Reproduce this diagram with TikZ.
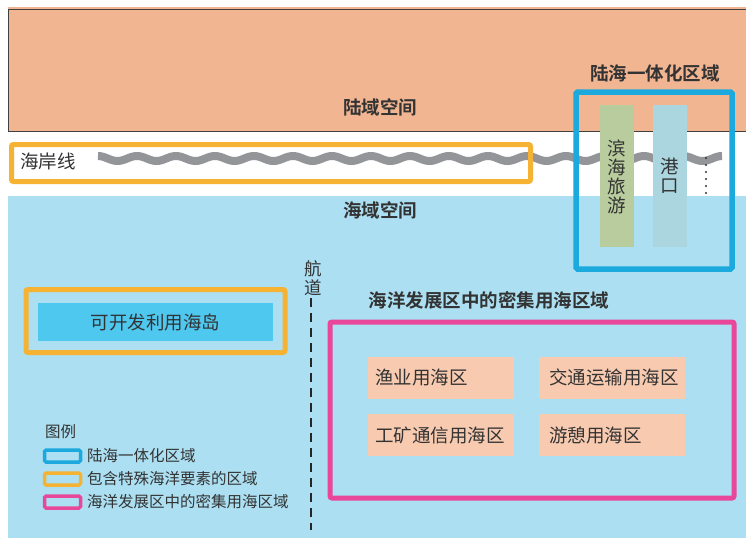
\documentclass[tikz,border=0pt]{standalone}
\usepackage{fontspec}
\setmainfont{Noto Sans CJK SC}
\newfontfamily\cjk{Noto Sans CJK SC}
\newfontfamily\cjkb{Noto Sans CJK SC Bold}
\definecolor{landc}{HTML}{F2B592}
\definecolor{seac}{HTML}{ABDFF1}
\definecolor{orangec}{HTML}{F6B232}
\definecolor{bluec}{HTML}{1BA9DE}
\definecolor{pinkc}{HTML}{E8479A}
\definecolor{islandc}{HTML}{4FC8F0}
\definecolor{peachc}{HTML}{F8CBB1}
\definecolor{greenc}{HTML}{B9CC9D}
\definecolor{harborc}{HTML}{ABD6DF}
\definecolor{wavec}{HTML}{939598}
\definecolor{txtc}{HTML}{333333}
\tikzset{
  lbl/.style={font=\cjk\fontsize{18.5}{19}\selectfont, text=txtc, inner sep=0pt},
  vlbl/.style={font=\cjk\fontsize{18.5}{19}\selectfont, text=txtc, inner sep=0pt, align=center},
  title/.style={font=\cjkb\fontsize{18.5}{19}\selectfont, text=txtc, inner sep=0pt},
  legtxt/.style={font=\cjk\fontsize{15.5}{17}\selectfont, text=txtc, inner sep=0pt, anchor=west},
  usebox/.style={fill=peachc, draw=none, minimum width=146pt, minimum height=42pt, inner sep=0pt},
  legbox/.style={draw, line width=3.5pt, rounded corners=1.5pt, fill=seac, minimum width=36pt, minimum height=12pt, inner sep=0pt},
}
\begin{document}
\begin{tikzpicture}[x=1pt,y=-1pt]
\useasboundingbox (0,0) rectangle (746,538);
\fill[white] (0,0) rectangle (746,538);
% land
\fill[landc] (8,7) rectangle (746,131);
\draw[line width=0.9pt, black!75] (746,9) -- (8,9) -- (8,131) -- (746,131);
% sea
\fill[seac] (8,196) rectangle (746,538);
% coastline wave
\draw[line width=8pt, wavec] plot[domain=98:722, samples=300, smooth] (\x,{158.5-2.5*cos((\x-98)/39*360)});
% orange box around coastline
\node[draw=orangec, line width=5pt, rounded corners=2pt, minimum width=519pt, minimum height=37pt, inner sep=0pt] (coastbox) at (271,163) {};
\node[lbl, anchor=west] (coast) at (20,161) {海岸线};
% integrated zone
\node[fill=greenc, minimum width=34pt, minimum height=142pt, inner sep=0pt] (tour) at (617,176) {};
\node[fill=harborc, minimum width=34pt, minimum height=142pt, inner sep=0pt] (harbor) at (670,176) {};
\node[vlbl] (tourt) at (617,177) {滨\\海\\旅\\游};
\node[vlbl] (harbort) at (670,176) {港\\口};
\foreach \i in {0,...,5} \fill[black!80] (706,{158+\i*7}) circle (1.1pt);
\node[draw=bluec, line width=5.5pt, rounded corners=1.5pt, minimum width=156pt, minimum height=177pt, inner sep=0pt] (intbox) at (654,180.5) {};
\node[title] (intt) at (655,73) {陆海一体化区域};
\node[title] (landt) at (380,107) {陆域空间};
\node[title] (seat) at (380,210) {海域空间};
% island
\node[draw=orangec, line width=5pt, rounded corners=2pt, minimum width=259pt, minimum height=63pt, inner sep=0pt] (islbox) at (155.5,321) {};
\node[fill=islandc, minimum width=235pt, minimum height=38pt, inner sep=0pt, lbl] (isl) at (155.5,322) {可开发利用海岛};
% channel
\node[vlbl, font=\cjk\fontsize{17.5}{18.5}\selectfont] (chan) at (313,278) {航\\道};
\coordinate (chanend) at (311,530);
\draw[line width=2.5pt, dash pattern=on 9pt off 6pt, black!85] (311,298) -- (chanend);
% dense use area
\node[title] (densit) at (489,300) {海洋发展区中的密集用海区域};
\node[draw=pinkc, line width=5pt, rounded corners=2pt, minimum width=404pt, minimum height=176pt, inner sep=0pt] (densbox) at (532,410) {};
\node[usebox] (fish) at (441,377.5) {};
\node[usebox] (trans) at (612,377.5) {};
\node[usebox] (mine) at (441,435) {};
\node[usebox] (rec) at (612,435) {};
\node[lbl, anchor=west] at ([xshift=7pt]fish.west) {渔业用海区};
\node[lbl, anchor=west] at ([xshift=10pt]trans.west) {交通运输用海区};
\node[lbl, anchor=west] at ([xshift=7pt]mine.west) {工矿通信用海区};
\node[lbl, anchor=west] at ([xshift=10pt]rec.west) {游憩用海区};
% legend
\node[legtxt] (legt) at (45,432) {图例};
\node[legbox, draw=bluec] (lb1) at (62.5,456) {};
\node[legbox, draw=orangec] (lb2) at (62.5,479) {};
\node[legbox, draw=pinkc] (lb3) at (62.5,502) {};
\node[legtxt] at (87,456) {陆海一体化区域};
\node[legtxt] at (87,479) {包含特殊海洋要素的区域};
\node[legtxt] at (87,502) {海洋发展区中的密集用海区域};
\end{tikzpicture}
\end{document}
